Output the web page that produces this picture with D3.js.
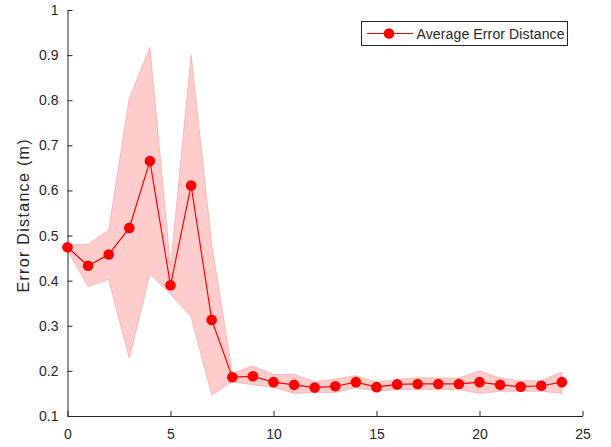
<!DOCTYPE html>
<html>
<head>
<meta charset="utf-8">
<script src="https://d3js.org/d3.v7.min.js"></script>
<style>
  body { margin: 0; background: #fff; }
  svg { display: block; font-family: "Liberation Sans", Arial, sans-serif; }
</style>
</head>
<body>
<script>
// Step index along the x axis
const steps = d3.range(0, 25);

// Average error distance (m)
const meanValues = [0.474, 0.433, 0.458, 0.517, 0.665, 0.390, 0.611, 0.313, 0.186, 0.188,
  0.175, 0.169, 0.163, 0.166, 0.175, 0.164, 0.170, 0.171, 0.171, 0.171,
  0.175, 0.169, 0.165, 0.167, 0.175];

// Upper edge of the shaded band
const upperValues = [0.479, 0.481, 0.512, 0.804, 0.917, 0.430, 0.900, 0.480, 0.195, 0.211,
  0.192, 0.192, 0.176, 0.182, 0.189, 0.175, 0.181, 0.185, 0.184, 0.184,
  0.200, 0.184, 0.178, 0.178, 0.198];

// Lower edge of the shaded band
const lowerValues = [0.468, 0.387, 0.403, 0.228, 0.415, 0.370, 0.320, 0.147, 0.176, 0.169,
  0.164, 0.150, 0.152, 0.152, 0.163, 0.155, 0.159, 0.159, 0.159, 0.159,
  0.150, 0.155, 0.155, 0.155, 0.150];

const xTicks = [0, 5, 10, 15, 20, 25];
const yTicks = [0.1, 0.2, 0.3, 0.4, 0.5, 0.6, 0.7, 0.8, 0.9, 1];

const width = 611;
const height = 447;
const axisColor = "#262626";

const x = d3.scaleLinear().domain([0, 25]).range([67.5, 582.5]);
const y = d3.scaleLinear().domain([0.1, 1]).range([416, 10]);

const svg = d3.select("body")
  .append("svg")
  .attr("width", width)
  .attr("height", height);

const data = steps.map((s, i) => ({
  x: s,
  mean: meanValues[i],
  upper: upperValues[i],
  lower: lowerValues[i],
}));

// Shaded band
const band = d3.area()
  .x(d => x(d.x))
  .y0(d => y(d.lower))
  .y1(d => y(d.upper));

svg.append("path")
  .datum(data)
  .attr("d", band)
  .attr("fill", "#ffcccc")
  .attr("stroke", "#ffaaaa")
  .attr("stroke-width", 0.8);

// Axes (MATLAB style: ticks inward, no box)
const xAxis = d3.axisBottom(x)
  .tickValues(xTicks)
  .tickSize(-5)
  .tickSizeOuter(0)
  .tickPadding(13)
  .tickFormat(d3.format("d"));

const yAxis = d3.axisLeft(y)
  .tickValues(yTicks)
  .tickSize(-5)
  .tickSizeOuter(0)
  .tickPadding(9)
  .tickFormat(d => d === 1 ? "1" : d3.format(".1f")(d));

const gx = svg.append("g")
  .attr("transform", `translate(0,${y(0.1)})`)
  .call(xAxis);

const gy = svg.append("g")
  .attr("transform", `translate(${x(0)},0)`)
  .call(yAxis);

[gx, gy].forEach(g => {
  g.select(".domain").attr("stroke", axisColor);
  g.selectAll(".tick line").attr("stroke", axisColor);
  g.selectAll(".tick text")
    .attr("fill", axisColor)
    .style("font-size", "14px");
});

// Y label
svg.append("text")
  .attr("transform", `translate(29,${(y(0.1) + y(1)) / 2 + 3}) rotate(-90)`)
  .attr("text-anchor", "middle")
  .attr("fill", axisColor)
  .attr("textLength", 153)
  .attr("lengthAdjust", "spacing")
  .style("font-size", "16px")
  .text("Error Distance (m)");

// Mean line and markers
const line = d3.line()
  .x(d => x(d.x))
  .y(d => y(d.mean));

svg.append("path")
  .datum(data)
  .attr("d", line)
  .attr("fill", "none")
  .attr("stroke", "#ff0000")
  .attr("stroke-width", 1.2);

svg.selectAll("circle.pt")
  .data(data)
  .enter()
  .append("circle")
  .attr("class", "pt")
  .attr("cx", d => x(d.x))
  .attr("cy", d => y(d.mean))
  .attr("r", 5.3)
  .attr("fill", "#ff0000");

// Legend
const legend = svg.append("g");
legend.append("rect")
  .attr("x", 361.5)
  .attr("y", 21.5)
  .attr("width", 206)
  .attr("height", 24)
  .attr("fill", "#fff")
  .attr("stroke", axisColor)
  .attr("stroke-width", 1);
legend.append("line")
  .attr("x1", 367).attr("x2", 413)
  .attr("y1", 33.5).attr("y2", 33.5)
  .attr("stroke", "#ff0000")
  .attr("stroke-width", 1.2);
legend.append("circle")
  .attr("cx", 389).attr("cy", 33.5)
  .attr("r", 5.3)
  .attr("fill", "#ff0000");
legend.append("text")
  .attr("x", 416.5)
  .attr("y", 38.5)
  .attr("fill", axisColor)
  .attr("textLength", 148)
  .attr("lengthAdjust", "spacing")
  .style("font-size", "14px")
  .text("Average Error Distance");
</script>
</body>
</html>
